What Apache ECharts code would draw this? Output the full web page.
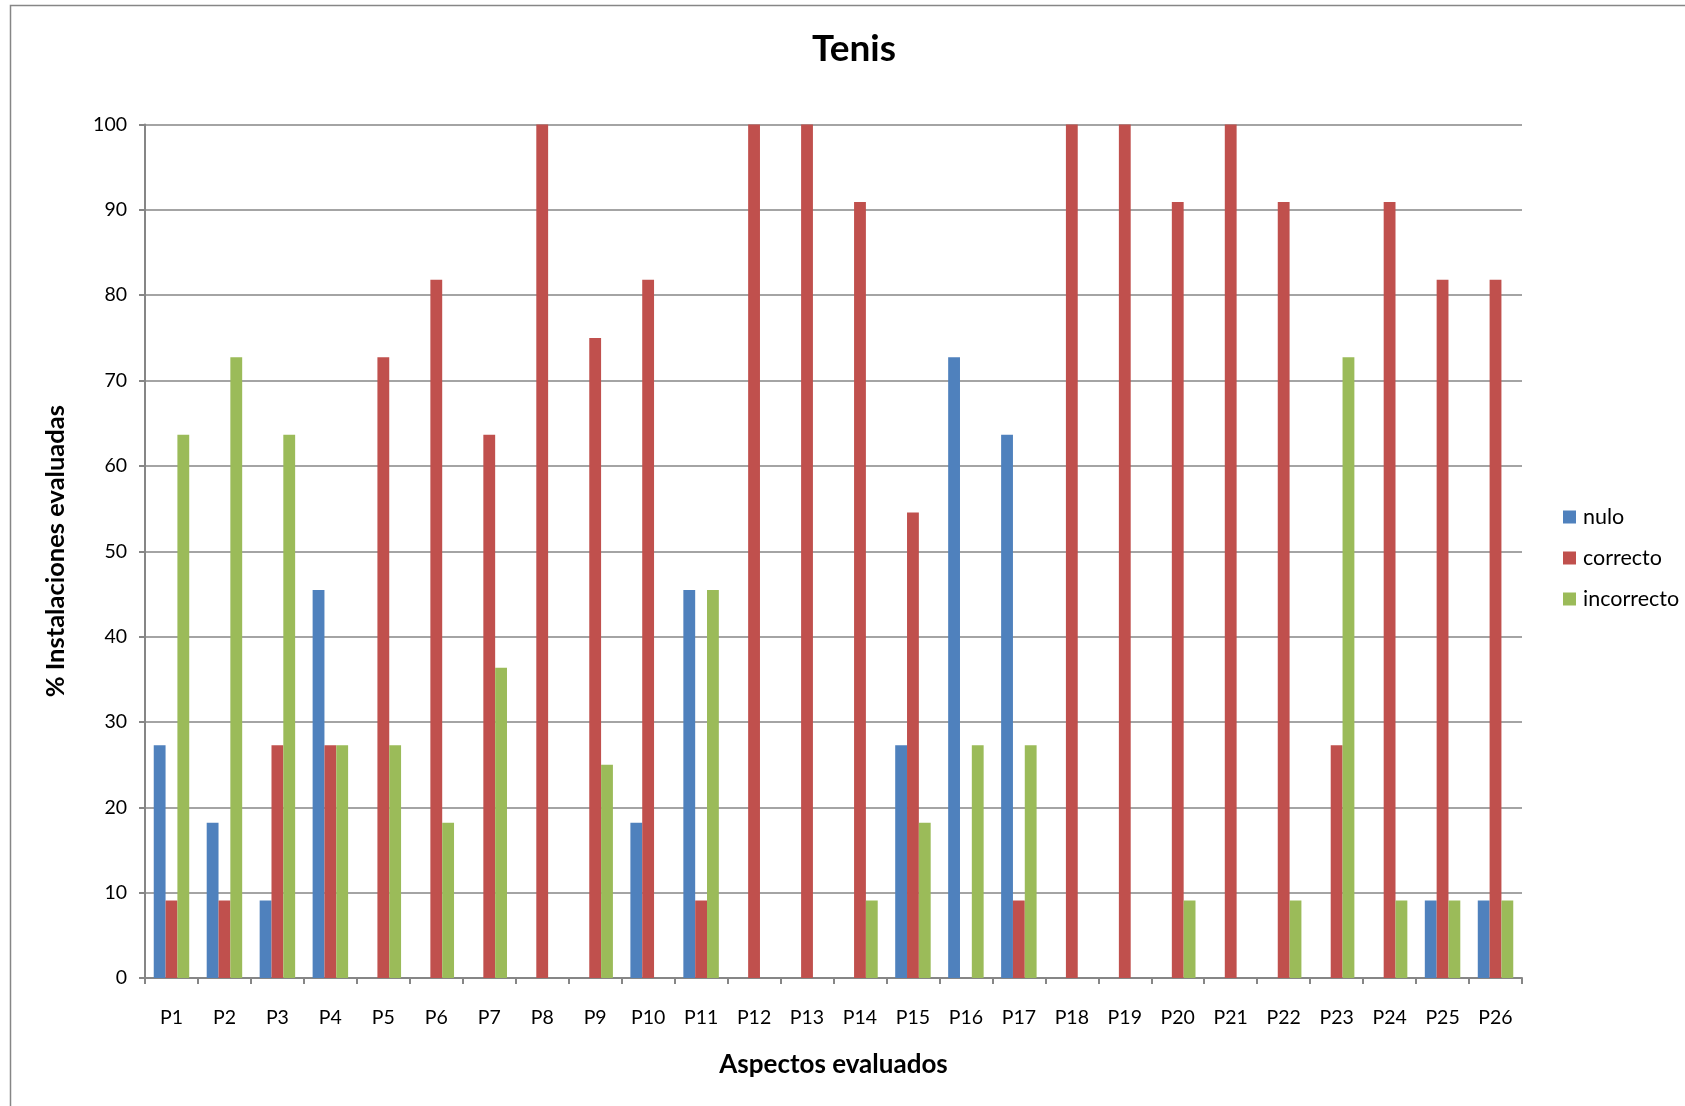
<!DOCTYPE html>
<html>
<head>
<meta charset="utf-8">
<script src="https://cdn.jsdelivr.net/npm/echarts@6/dist/echarts.min.js"></script>
<style>html,body{margin:0;padding:0;background:#fff;}#c{width:1685px;height:1106px;}</style>
</head>
<body>
<div id="c"></div>
<script>
const categories = ['P1','P2','P3','P4','P5','P6','P7','P8','P9','P10','P11','P12','P13','P14','P15','P16','P17','P18','P19','P20','P21','P22','P23','P24','P25','P26'];
const nulo = [27.27,18.18,9.09,45.45,0,0,0,0,0,18.18,45.45,0,0,0,27.27,72.73,63.64,0,0,0,0,0,0,0,9.09,9.09];
const correcto = [9.09,9.09,27.27,27.27,72.73,81.82,63.64,100,75,81.82,9.09,100,100,90.91,54.55,0,9.09,100,100,90.91,100,90.91,27.27,90.91,81.82,81.82];
const incorrecto = [63.64,72.73,63.64,27.27,27.27,18.18,36.36,0,25,0,45.45,0,0,9.09,18.18,27.27,27.27,0,0,9.09,0,9.09,72.73,9.09,9.09,9.09];
const yTicks = [0,10,20,30,40,50,60,70,80,90,100];

const FONT = 'Lato';
const chart = echarts.init(document.getElementById('c'), null, {renderer:'canvas'});
const mk = (name, data, color) => ({
  name, type:'bar', data, barGap:'0%', barCategoryGap:'33%',
  itemStyle:{color}, emphasis:{disabled:true}, animation:false
});
chart.setOption({
  animation:false,
  textStyle:{fontFamily:FONT},
  graphic:[{type:'rect', shape:{x:10.5,y:5.5,width:1720,height:1120}, style:{fill:'none', stroke:'#868686', lineWidth:1.5}, silent:true}],
  title:{text:'Tenis', left:849, top:26, textAlign:'center',
    textStyle:{fontFamily:FONT, fontSize:37, fontWeight:'bold', color:'#000'}},
  legend:{orient:'vertical', left:1558, top:501, itemWidth:13, itemHeight:13, itemGap:19,
    icon:'rect', textStyle:{fontFamily:FONT, fontSize:21.5, color:'#000', padding:[0,0,0,2]},
    data:['nulo','correcto','incorrecto']},
  grid:{left:145, right:163, top:124.5, bottom:128, containLabel:false},
  xAxis:{type:'category', data:categories,
    axisLine:{lineStyle:{color:'#868686', width:2}},
    axisTick:{show:true, alignWithLabel:false, length:6, lineStyle:{color:'#868686', width:2}},
    axisLabel:{color:'#000', fontSize:19.5, margin:30, fontFamily:FONT, interval:0},
    name:'Aspectos evaluados', nameLocation:'middle', nameGap:74,
    nameTextStyle:{fontSize:26, fontWeight:'bold', color:'#000', fontFamily:FONT}},
  yAxis:{type:'value', min:0, max:100, interval:10,
    axisLine:{show:true, lineStyle:{color:'#868686', width:2}},
    axisTick:{show:true, length:6, lineStyle:{color:'#868686', width:2}},
    axisLabel:{color:'#000', fontSize:19.5, margin:18, fontFamily:FONT,
      formatter:v=>yTicks.includes(v)?String(v):''},
    splitLine:{lineStyle:{color:'#868686', width:1.5}},
    name:'% Instalaciones evaluadas', nameLocation:'middle', nameGap:76, nameRotate:90,
    nameTextStyle:{fontSize:25.5, fontWeight:'bold', color:'#000', fontFamily:FONT}},
  series:[mk('nulo',nulo,'#4F81BD'), mk('correcto',correcto,'#C0504D'), mk('incorrecto',incorrecto,'#9BBB59')]
});
</script>
</body>
</html>
